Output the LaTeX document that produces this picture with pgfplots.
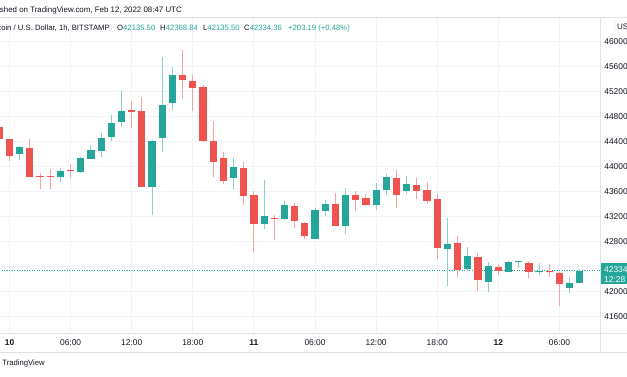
\documentclass[border=0pt]{standalone}
\usepackage{fontspec}
\setmainfont{Liberation Sans}
\usepackage{pgfplots}
\pgfplotsset{compat=1.18}
\usepackage{pgfplotstable}

\definecolor{upc}{HTML}{26A69A}
\definecolor{dnc}{HTML}{EF5350}
\definecolor{upw}{HTML}{8ED0C9}
\definecolor{dnw}{HTML}{F6A3A1}
\definecolor{gridc}{HTML}{F0F3FA}
\definecolor{sepc}{HTML}{E0E3EB}
\definecolor{txt}{HTML}{131722}

% hourly candles, h = hours since Feb 10 00:00
\pgfplotstableread{
h O H L C
-1 44635 44700 44420 44443
0 44443 44450 44096 44171
2 44294 44438 43840 43840
3 43848 43904 43643 43830
4 43848 43958 43643 43830
6 43952 44043 43814 43936
12 44904 45051 44614 44880
13 44896 45120 43670 43670
17 45462 45867 45083 45387
18 45371 45472 44896 45259
19 45275 45307 44390 44406
20 44406 44731 43830 44070
21 44134 44240 43718 43776
23 43984 44080 43387 43536
24 43552 43616 42640 43078
26 43176 43227 42827 43156
28 43376 43414 43014 43136
29 43104 43120 42848 42891
32 43398 43584 43051 43051
34 43542 43616 43296 43467
35 43494 43558 43376 43392
38 43814 43952 43339 43542
40 43707 43824 43483 43616
41 43627 43760 43403 43451
42 43478 43558 42518 42704
44 42774 42891 42240 42347
46 42560 42624 42016 42187
48 42400 42443 42267 42331
51 42464 42491 42214 42310
53 42328 42438 42230 42310
54 42304 42310 41776 42118
}\down

\pgfplotstableread{
h O H L C
1 44203 44330 44107 44320
5 43840 43974 43760 43926
7 43915 44160 43900 44134
8 44128 44347 44120 44267
9 44256 44544 44160 44464
10 44480 44827 44416 44694
11 44710 45227 44630 44896
14 43675 44430 43227 44416
15 44454 45760 44230 44982
16 45014 45600 44907 45472
22 43819 44139 43643 44000
25 43088 43787 43008 43216
27 43158 43451 43150 43387
30 42843 43334 42840 43302
31 43291 43467 43216 43403
33 43051 43659 42918 43542
36 43392 43734 43307 43627
37 43627 43883 43542 43830
39 43616 43851 43563 43723
43 42683 43174 42091 42763
45 42363 42720 42331 42576
47 42150 42480 41990 42411
49 42320 42496 42310 42470
50 42475 42496 42384 42492
52 42318 42454 42267 42336
55 42054 42240 41974 42144
56 42135.5 42368.84 42135.5 42334.36
}\up

\begin{document}
\begin{tikzpicture}
\path[use as bounding box] (0pt,0pt) rectangle (627pt,376pt);
\clip (0pt,0pt) rectangle (627pt,376pt);
\fill[white] (0pt,0pt) rectangle (627pt,376pt);
\begin{axis}[
  at={(0pt,43pt)}, anchor=south west,
  scale only axis, width=600.7pt, height=316pt,
  xmin=-0.933, xmax=58.05, ymin=41339, ymax=46395,
  axis line style={draw=none},
  major tick length=0pt,
  xtick={0,6,...,54},
  xticklabels={\textbf{10},06:00,12:00,18:00,\textbf{11},06:00,12:00,18:00,\textbf{12},06:00},
  ytick={41600,42000,...,46000},
  scaled y ticks=false,
  yticklabel pos=right,
  grid=major,
  major grid style={draw=gridc, line width=1pt},
  tick label style={font=\fontsize{8.4}{9}\selectfont, text=txt},
  /pgf/number format/assume math mode=true,
  yticklabel style={anchor=west, inner sep=0pt, xshift=3.5pt,
    /pgf/number format/fixed, /pgf/number format/1000 sep={}},
  xticklabel style={anchor=center, inner sep=0pt, yshift=-10pt},
]
% last-price line
\addplot[forget plot, upc, line width=0.8pt, dash pattern=on 1pt off 1.5pt]
  coordinates {(-1,42334.36) (59,42334.36)};
% wicks
\addplot[forget plot, draw=none, mark=none,
  error bars/.cd, y dir=plus, y explicit, error mark=none,
  error bar style={draw=dnw, line width=1pt, solid}]
  table[x=h, y=L, y error plus expr=\thisrow{H}-\thisrow{L}] {\down};
\addplot[forget plot, draw=none, mark=none,
  error bars/.cd, y dir=plus, y explicit, error mark=none,
  error bar style={draw=upw, line width=1pt, solid}]
  table[x=h, y=L, y error plus expr=\thisrow{H}-\thisrow{L}] {\up};
% bodies
\addplot[forget plot, draw=none, mark=none,
  error bars/.cd, y dir=plus, y explicit, error mark=none,
  error bar style={draw=dnc, line width=7.2pt, solid}]
  table[x=h, y=C, y error plus expr=\thisrow{O}-\thisrow{C}] {\down};
\addplot[forget plot, draw=none, mark=none,
  error bars/.cd, y dir=plus, y explicit, error mark=none,
  error bar style={draw=upc, line width=7.2pt, solid}]
  table[x=h, y=O, y error plus expr=\thisrow{C}-\thisrow{O}] {\up};
\end{axis}
% pane separators
\draw[sepc, line width=0.8pt] (0pt,359pt) -- (627pt,359pt);
\draw[sepc, line width=0.8pt] (0pt,43pt) -- (627pt,43pt);
\draw[sepc, line width=0.8pt] (0pt,24pt) -- (627pt,24pt);
\draw[sepc, line width=0.8pt] (600.7pt,24pt) -- (600.7pt,359pt);
% price label
\fill[upc] (600.7pt,92pt) rectangle (640pt,112.7pt);
\node[anchor=west, inner sep=0pt, text=white, font=\fontsize{8.4}{9}\selectfont] at (604pt,106pt) {42334.36};
\node[anchor=west, inner sep=0pt, text=white, font=\fontsize{8.4}{9}\selectfont] at (604pt,96.5pt) {12:28};
% currency box
\draw[sepc, rounded corners=2pt, fill=white] (614.5pt,344pt) rectangle (640pt,355pt);
\node[anchor=west, inner sep=0pt, text=txt, font=\fontsize{8}{9}\selectfont] at (617pt,349.5pt) {USD};
% header
\node[anchor=base east, inner sep=0pt, text=txt, font=\fontsize{7.9}{10}\selectfont] at (182pt,363pt) {Published on TradingView.com, Feb 12, 2022 08:47 UTC};
\begin{scope}[every node/.style={inner sep=0pt, text=txt, font=\fontsize{7.7}{10}\selectfont}]
\node[anchor=base east] at (110pt,345pt) {Bitcoin / U.S. Dollar, 1h, BITSTAMP};
\node[anchor=base west] at (117pt,345pt) {O\textcolor{upc}{42135.50}};
\node[anchor=base west] at (160pt,345pt) {H\textcolor{upc}{42368.84}};
\node[anchor=base west] at (203pt,345pt) {L\textcolor{upc}{42135.50}};
\node[anchor=base west] at (244pt,345pt) {C\textcolor{upc}{42334.36}};
\node[anchor=base west, text=upc] at (288pt,345pt) {+203.19 (+0.48\%)};
\node[anchor=base east] at (45pt,11pt) {TradingView};
\end{scope}
\end{tikzpicture}
\end{document}
